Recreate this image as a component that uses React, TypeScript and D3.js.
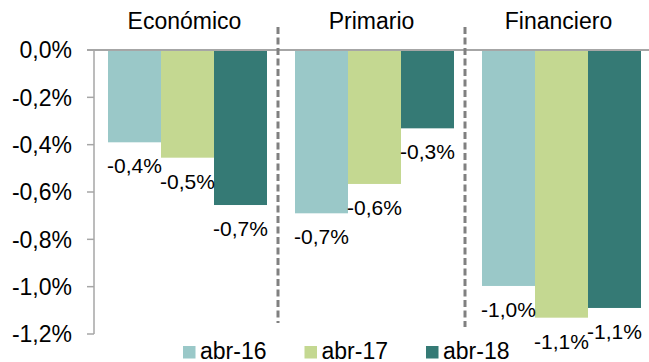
import React from "react";
import * as d3 from "d3";

const groups = ["Económico", "Primario", "Financiero"];
const series = ["abr-16", "abr-17", "abr-18"];
const values2016 = [-0.39, -0.69, -0.997];
const values2017 = [-0.455, -0.566, -1.131];
const values2018 = [-0.655, -0.331, -1.09];
const yTicks = [0, -0.2, -0.4, -0.6, -0.8, -1.0, -1.2];
const colors = ["#9ac8c8", "#c4d891", "#357a75"];

const W = 649;
const H = 362;
const FONT = "'Liberation Sans', Arial, sans-serif";

export default function App() {
  const valuesBySeries = [values2016, values2017, values2018];
  const y = d3.scaleLinear().domain([-1.2, 0]).range([334, 50]);
  const x0 = d3.scaleBand<string>().domain(groups).range([91, 652]).padding(0);
  const bw = x0.bandwidth();
  const x1 = d3
    .scaleBand<string>()
    .domain(series)
    .range([17, bw - 11])
    .padding(0);
  const axisX = 94;
  const fmt = (v: number) => (v.toFixed(1).replace(".", ",")) + "%";

  return (
    <svg width={W} height={H} style={{ position: "absolute", left: 0, top: 0 }} fontFamily={FONT}>
      <rect width={W} height={H} fill="#fff" />
      {/* bars */}
      {groups.map((g, gi) =>
        series.map((s, si) => {
          const v = valuesBySeries[si][gi];
          const bx = (x0(g) as number) + (x1(s) as number);
          return (
            <rect
              key={g + s}
              x={bx}
              y={y(0)}
              width={x1.bandwidth()}
              height={y(v) - y(0)}
              fill={colors[si]}
            />
          );
        })
      )}
      {/* y axis */}
      <line x1={axisX} x2={axisX} y1={y(0)} y2={y(-1.2)} stroke="#a6a6a6" strokeWidth={1.5} />
      {yTicks.map((t) => (
        <g key={t}>
          <line x1={axisX - 7} x2={axisX} y1={y(t)} y2={y(t)} stroke="#a6a6a6" strokeWidth={1.5} />
          <text x={72} y={y(t)} dy="0.36em" textAnchor="end" fontSize={23} fill="#000">
            {t.toFixed(1).replace(".", ",") + "%"}
          </text>
        </g>
      ))}
      {/* zero line */}
      <line x1={axisX - 7} x2={W} y1={y(0)} y2={y(0)} stroke="#a6a6a6" strokeWidth={2} />
      {/* dividers */}
      {groups.slice(1).map((g, i) => (
        <line
          key={g}
          x1={x0(g) as number}
          x2={x0(g) as number}
          y1={27}
          y2={i === 0 ? 323 : 327}
          stroke="#808080"
          strokeWidth={3}
          strokeDasharray="7,3.5"
        />
      ))}
      {/* group titles */}
      {groups.map((g) => (
        <text
          key={g}
          x={(x0(g) as number) + bw / 2}
          y={28.5}
          textAnchor="middle"
          fontSize={23}
          fill="#000"
        >
          {g}
        </text>
      ))}
      {/* data labels */}
      {groups.map((g, gi) =>
        series.map((s, si) => {
          const v = valuesBySeries[si][gi];
          const cx = (x0(g) as number) + (x1(s) as number) + x1.bandwidth() / 2;
          return (
            <text
              key={"l" + g + s}
              x={cx}
              y={y(v) + 31}
              textAnchor="middle"
              fontSize={21}
              fill="#000"
            >
              {fmt(v)}
            </text>
          );
        })
      )}
      {/* legend */}
      {series.map((s, si) => {
        const lx = 183 + si * 121.5;
        return (
          <g key={"lg" + s}>
            <rect x={lx} y={346} width={12.5} height={12.5} fill={colors[si]} />
            <text x={lx + 17} y={358.5} fontSize={23} fill="#000">
              {s}
            </text>
          </g>
        );
      })}
    </svg>
  );
}
